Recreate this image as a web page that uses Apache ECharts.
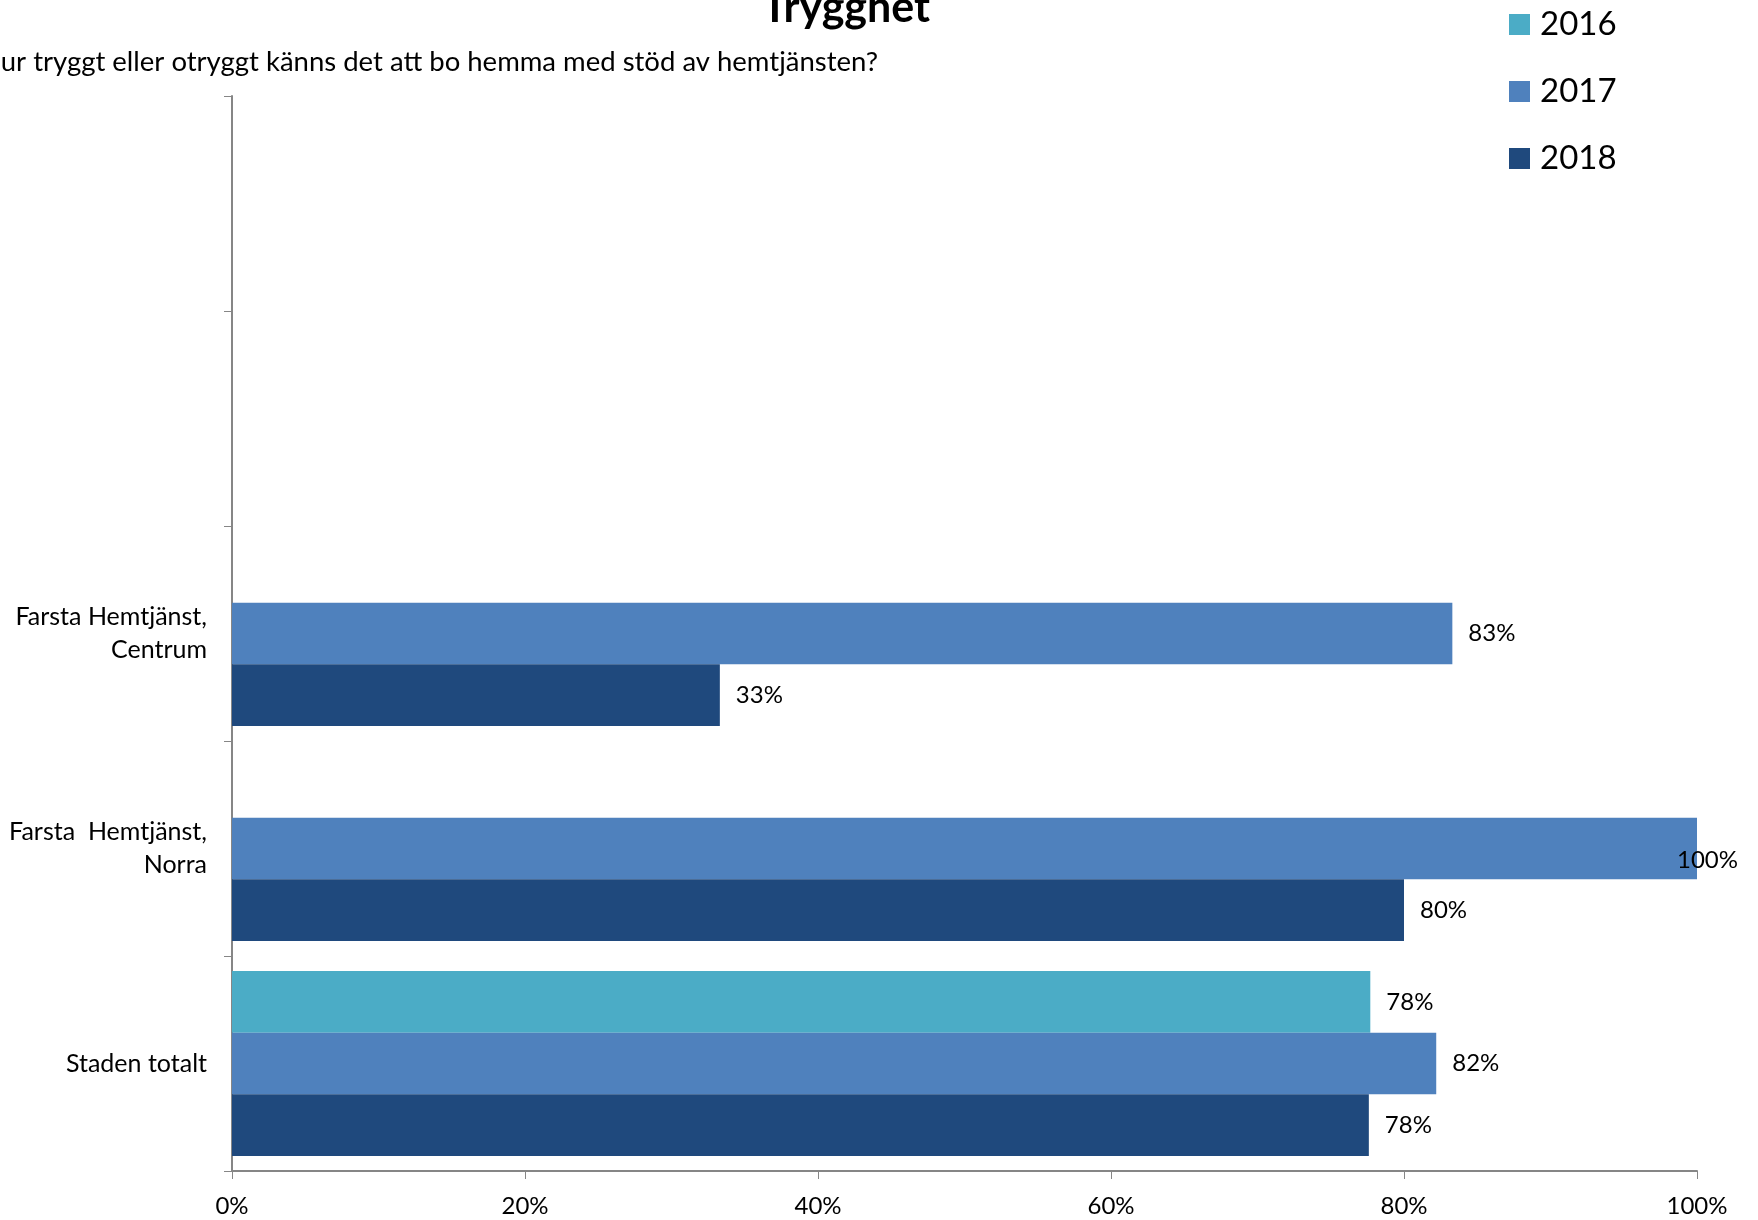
<!DOCTYPE html>
<html lang="sv">
<head>
    <meta charset="UTF-8">
    <title>Trygghet</title>
    <script src="https://cdnjs.cloudflare.com/ajax/libs/echarts/6.0.0/echarts.min.js"></script>
    <style>
        html, body { margin: 0; padding: 0; background: #fff; }
    </style>
</head>
<body>
    <div id="mychart" style="width: 1758px;height:1220px;"></div>
    <script>
        // categories top to bottom (two empty rows at the top, as in the original)
        var categories = [' ', '  ', 'Farsta Hemtjänst,\nCentrum', 'Farsta  Hemtjänst,\nNorra', 'Staden totalt']
        var years = ['2016', '2017', '2018']
        var values2016 = [null, null, null, null, 77.7]
        var values2017 = [null, null, 83.3, 100, 82.2]
        var values2018 = [null, null, 33.3, 80, 77.6]
        var xTicks = [0, 20, 40, 60, 80, 100]

        var font = 'Lato'
        var colors = ['#4BACC6', '#4F81BD', '#1F497D']
        var chart = echarts.init(document.getElementById('mychart'))

        var barLabel = {
            show: true,
            position: 'right',
            distance: 16,
            color: '#000',
            fontFamily: font,
            fontSize: 24,
            formatter: function (p) {
                return Math.round(p.value) + '%'
            }
        }

        function makeSeries(name, data) {
            return {
                name: name,
                type: 'bar',
                barGap: '0%',
                barCategoryGap: '14%',
                data: data,
                label: barLabel,
                labelLayout: function (p) {
                    // keep the label inside the chart, like the original does for 100%
                    var r = p.labelRect
                    var maxRight = chart.getWidth() - 20
                    if (r.x + r.width > maxRight) {
                        return { x: maxRight - r.width }
                    }
                }
            }
        }

        var option = {
            color: colors,
            animation: false,
            title: [{
                text: 'Trygghet',
                left: 762,
                top: -13,
                padding: 0,
                textStyle: {
                    fontFamily: font,
                    fontSize: 43,
                    lineHeight: 43,
                    fontWeight: 'bold',
                    color: '#000'
                }
            }, {
                text: 'Hur tryggt eller otryggt känns det att bo hemma med stöd av hemtjänsten?',
                right: 880,
                top: 48,
                padding: 0,
                textStyle: {
                    fontFamily: font,
                    fontSize: 27.5,
                    lineHeight: 28,
                    fontWeight: 'normal',
                    color: '#000'
                }
            }],
            legend: {
                data: years,
                orient: 'vertical',
                left: 1509,
                top: 8,
                padding: 0,
                icon: 'rect',
                itemWidth: 21,
                itemHeight: 21,
                itemGap: 34,
                textStyle: {
                    fontFamily: font,
                    fontSize: 33,
                    lineHeight: 33,
                    color: '#000',
                    padding: [0, 0, 0, 5]
                }
            },
            grid: {
                left: 232,
                right: 61,
                top: 96,
                bottom: 49,
                containLabel: false,
                outerBoundsMode: 'none'
            },
            xAxis: {
                type: 'value',
                min: xTicks[0],
                max: xTicks[xTicks.length - 1],
                interval: 20,
                splitLine: { show: false },
                axisLine: { show: true, lineStyle: { color: '#868686', width: 2 } },
                axisTick: { show: true, length: 8, lineStyle: { color: '#868686', width: 1 } },
                axisLabel: {
                    margin: 23,
                    color: '#000',
                    fontFamily: font,
                    fontSize: 24,
                    formatter: '{value}%'
                }
            },
            yAxis: {
                type: 'category',
                inverse: true,
                data: categories,
                axisLine: { show: true, lineStyle: { color: '#868686', width: 2 } },
                axisTick: { show: true, length: 8, lineStyle: { color: '#868686', width: 1 } },
                axisLabel: {
                    margin: 25,
                    color: '#000',
                    fontFamily: font,
                    fontSize: 25,
                    lineHeight: 33,
                    align: 'right'
                }
            },
            series: [
                makeSeries(years[0], values2016),
                makeSeries(years[1], values2017),
                makeSeries(years[2], values2018)
            ]
        }
        chart.setOption(option)
    </script>
</body>
</html>
